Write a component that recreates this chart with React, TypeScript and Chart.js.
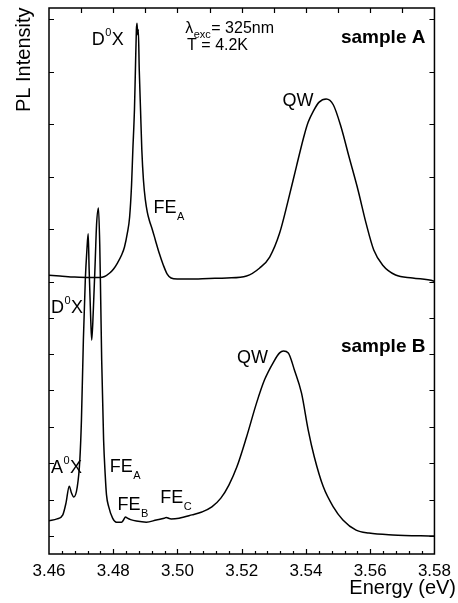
import React, { useEffect, useRef } from "react";
import { Chart, registerables } from "chart.js";

Chart.register(...registerables);

// ---- data (energy in eV, intensity in arbitrary units per panel) ----
const energyA = [
  3.46, 3.4634, 3.468, 3.4727, 3.4758, 3.4773, 3.4789, 3.4801, 3.4813, 3.4826,
  3.4835, 3.4844, 3.4851, 3.4857, 3.4861, 3.4866, 3.4869, 3.4872, 3.4874, 3.4876,
  3.4878, 3.4881, 3.4885, 3.4889, 3.4894, 3.49, 3.4906, 3.4912, 3.4922, 3.4931,
  3.4943, 3.4956, 3.4968, 3.498, 3.4999, 3.5036, 3.5098, 3.5154, 3.5215, 3.5256,
  3.5287, 3.5318, 3.5345, 3.537, 3.5395, 3.5407, 3.5423, 3.5441, 3.5463, 3.5485,
  3.5509, 3.5534, 3.5562, 3.5587, 3.5611, 3.5639, 3.5679, 3.5732, 3.5797, 3.58,
];
const intensityA = [
  0.127, 0.114, 0.095, 0.086, 0.086, 0.105, 0.171, 0.247, 0.361, 0.513,
  0.665, 0.932, 1.236, 1.844, 2.51, 3.27, 4.03, 4.79, 4.92, 4.7,
  4.8, 4.03, 3.27, 2.51, 1.94, 1.56, 1.33, 1.18, 0.99, 0.8,
  0.55, 0.32, 0.15, 0.076, 0.057, 0.057, 0.067, 0.076, 0.114, 0.266,
  0.475, 0.93, 1.56, 2.19, 2.8, 3.04, 3.25, 3.42, 3.48, 3.37,
  2.95, 2.38, 1.75, 1.12, 0.61, 0.32, 0.133, 0.076, 0.019, 0.01,
];

const energyB = [
  3.46, 3.4625, 3.4643, 3.4653, 3.4663, 3.467, 3.4677, 3.4688, 3.4696, 3.4701,
  3.4707, 3.4713, 3.4718, 3.4722, 3.4725, 3.473, 3.4733, 3.4738, 3.4744, 3.4748,
  3.4754, 3.4758, 3.4761, 3.4764, 3.477, 3.4775, 3.4779, 3.4786, 3.4798, 3.481,
  3.4826, 3.4832, 3.4838, 3.4844, 3.4854, 3.4872, 3.4903, 3.4934, 3.4959, 3.4965,
  3.4974, 3.498, 3.5005, 3.5045, 3.5076, 3.5107, 3.5135, 3.516, 3.5185, 3.5215,
  3.5246, 3.5271, 3.5299, 3.5318, 3.533, 3.5345, 3.5364, 3.5386, 3.5407, 3.5426,
  3.5454, 3.5485, 3.5515, 3.5556, 3.5596, 3.567, 3.58,
];
const intensityB = [
  0.42, 0.47, 0.58, 0.91, 1.37, 1.18, 1.07, 1.35, 2.09, 3.19,
  5.38, 7.03, 7.86, 8.3, 7.31, 5.93, 5.38, 6.21, 7.58, 8.54,
  9.01, 8.0, 6.48, 4.84, 2.64, 1.68, 1.13, 0.8, 0.49, 0.38,
  0.38, 0.44, 0.52, 0.49, 0.45, 0.41, 0.38, 0.44, 0.49, 0.51,
  0.48, 0.47, 0.49, 0.58, 0.66, 0.8, 1.04, 1.4, 1.9, 2.72,
  3.65, 4.29, 4.78, 5.03, 5.08, 5.03, 4.56, 3.93, 2.91, 2.17,
  1.35, 0.8, 0.44, 0.16, 0.08, 0.03, 0.0,
];

const xTickLabels = [3.46, 3.48, 3.5, 3.52, 3.54, 3.56, 3.58];
const yTicksA = [0, 1, 2, 3, 4, 5];
const yTicksB = [0, 1, 2, 3, 4, 5, 6];

const X_MIN = 3.46;
const X_MAX = 3.58;
const Y_A_MIN = -5.171;
const Y_A_MAX = 5.209;
const Y_B_MIN = -0.4945;
const Y_B_MAX = 14.505;

const FAMILY = "'Liberation Sans', Arial, Helvetica, sans-serif";

type Part = { t: string; k?: "sup" | "sub" };
type Ann = {
  parts: Part[];
  x: number;
  y: number;
  axis: "yA" | "yB";
  bold?: boolean;
  size?: number;
  align?: "left" | "right";
};

const annotations: Ann[] = [
  { parts: [{ t: "D" }, { t: "0", k: "sup" }, { t: "X" }], x: 3.4733, y: 4.51, axis: "yA" },
  { parts: [{ t: "λ" }, { t: "exc", k: "sub" }, { t: "= 325nm" }], x: 3.5024, y: 4.74, axis: "yA", size: 16 },
  { parts: [{ t: "T = 4.2K" }], x: 3.503, y: 4.42, axis: "yA", size: 16 },
  { parts: [{ t: "sample A" }], x: 3.5772, y: 4.54, axis: "yA", bold: true, size: 19, align: "right" },
  { parts: [{ t: "QW" }], x: 3.5327, y: 3.35, axis: "yA" },
  { parts: [{ t: "FE" }, { t: "A", k: "sub" }], x: 3.4925, y: 1.31, axis: "yA" },
  { parts: [{ t: "D" }, { t: "0", k: "sup" }, { t: "X" }], x: 3.4606, y: 6.13, axis: "yB" },
  { parts: [{ t: "sample B" }], x: 3.5772, y: 5.05, axis: "yB", bold: true, size: 19, align: "right" },
  { parts: [{ t: "QW" }], x: 3.5185, y: 4.75, axis: "yB" },
  { parts: [{ t: "A" }, { t: "0", k: "sup" }, { t: "X" }], x: 3.4606, y: 1.73, axis: "yB" },
  { parts: [{ t: "FE" }, { t: "A", k: "sub" }], x: 3.4789, y: 1.76, axis: "yB" },
  { parts: [{ t: "FE" }, { t: "B", k: "sub" }], x: 3.4813, y: 0.71, axis: "yB" },
  { parts: [{ t: "FE" }, { t: "C", k: "sub" }], x: 3.4946, y: 0.91, axis: "yB" },
];

const framePlugin = {
  id: "frameAndText",
  afterDraw(chart: any) {
    const ctx: CanvasRenderingContext2D = chart.ctx;
    const { left, right, top, bottom } = chart.chartArea;
    const xs = chart.scales.x;
    const yA = chart.scales.yA;
    const yB = chart.scales.yB;
    ctx.save();
    ctx.strokeStyle = "#000";
    ctx.lineWidth = 1.5;
    ctx.strokeRect(left, top, right - left, bottom - top);

    ctx.lineWidth = 1.2;
    ctx.beginPath();
    const yTick = (py: number) => {
      ctx.moveTo(left, py);
      ctx.lineTo(left + 5, py);
      ctx.moveTo(right, py);
      ctx.lineTo(right - 5, py);
    };
    yTicksA.forEach((v) => yTick(Math.round(yA.getPixelForValue(v)) + 0.5));
    yTicksB.forEach((v) => yTick(Math.round(yB.getPixelForValue(v)) + 0.5));
    // top ticks every 0.01
    for (let i = 1; i < 12; i++) {
      const px = Math.round(xs.getPixelForValue(X_MIN + i * 0.01)) + 0.5;
      ctx.moveTo(px, top);
      ctx.lineTo(px, top + 5);
    }
    // bottom ticks: minor every 0.004, major every 0.02
    for (let i = 1; i < 30; i++) {
      const px = Math.round(xs.getPixelForValue(X_MIN + i * 0.004)) + 0.5;
      const len = i % 5 === 0 ? 5 : 3;
      ctx.moveTo(px, bottom);
      ctx.lineTo(px, bottom - len);
    }
    ctx.stroke();

    // annotations
    ctx.fillStyle = "#000";
    ctx.textBaseline = "alphabetic";
    ctx.textAlign = "left";
    annotations.forEach((a) => {
      const ys = chart.scales[a.axis];
      let px = xs.getPixelForValue(a.x);
      const py = ys.getPixelForValue(a.y);
      const main = a.size ?? 18;
      const fontFor = (p: Part) =>
        `${a.bold ? "bold " : ""}${p.k ? 11 : main}px ${FAMILY}`;
      let total = 0;
      a.parts.forEach((p) => {
        ctx.font = fontFor(p);
        total += ctx.measureText(p.t).width + (p.k ? 1 : 0);
      });
      if (a.align === "right") px -= total;
      a.parts.forEach((p) => {
        ctx.font = fontFor(p);
        const dy = p.k === "sup" ? -9 : p.k === "sub" ? (main < 18 ? 5 : 7) : 0;
        ctx.fillText(p.t, px + (p.k ? 0.5 : 0), py + dy);
        px += ctx.measureText(p.t).width + (p.k ? 1 : 0);
      });
    });

    // axis titles
    ctx.font = `20px ${FAMILY}`;
    ctx.textAlign = "right";
    ctx.fillText("Energy (eV)", 456, 594);
    ctx.save();
    ctx.translate(30, 112);
    ctx.rotate(-Math.PI / 2);
    ctx.textAlign = "left";
    ctx.fillText("PL Intensity", 0, 0);
    ctx.restore();
    ctx.restore();
  },
};

export default function App() {
  const ref = useRef<HTMLCanvasElement | null>(null);
  useEffect(() => {
    if (!ref.current) return;
    const chart = new Chart(ref.current, {
      type: "line",
      data: {
        datasets: [
          {
            label: "sample A",
            data: energyA.map((x, i) => ({ x, y: intensityA[i] })),
            yAxisID: "yA",
            borderColor: "#000",
            borderWidth: 1.5,
            pointRadius: 0,
            cubicInterpolationMode: "monotone",
            fill: false,
          },
          {
            label: "sample B",
            data: energyB.map((x, i) => ({ x, y: intensityB[i] })),
            yAxisID: "yB",
            borderColor: "#000",
            borderWidth: 1.5,
            pointRadius: 0,
            cubicInterpolationMode: "monotone",
            fill: false,
          },
        ],
      },
      options: {
        animation: false,
        responsive: false,
        maintainAspectRatio: false,
        layout: { padding: { left: 49, right: 21, top: 8, bottom: 0 } },
        plugins: { legend: { display: false }, tooltip: { enabled: false } },
        scales: {
          x: {
            type: "linear",
            position: "bottom",
            min: X_MIN,
            max: X_MAX,
            grid: { display: false, drawTicks: false },
            border: { display: false },
            afterBuildTicks: (s: any) => {
              s.ticks = xTickLabels.map((v) => ({ value: v }));
            },
            afterFit: (s: any) => {
              s.height = 49;
            },
            ticks: {
              padding: 7,
              color: "#000",
              font: { family: FAMILY, size: 17 },
              callback: (v: any) => Number(v).toFixed(2),
              maxRotation: 0,
              autoSkip: false,
            },
          },
          yA: {
            type: "linear",
            position: "left",
            display: false,
            min: Y_A_MIN,
            max: Y_A_MAX,
          },
          yB: {
            type: "linear",
            position: "left",
            display: false,
            min: Y_B_MIN,
            max: Y_B_MAX,
          },
        },
      },
      plugins: [framePlugin],
    } as any);
    return () => chart.destroy();
  }, []);
  return (
    <canvas
      ref={ref}
      width={458}
      height={603}
      style={{ position: "absolute", left: 0, top: 0, display: "block", background: "#fff" }}
    />
  );
}
